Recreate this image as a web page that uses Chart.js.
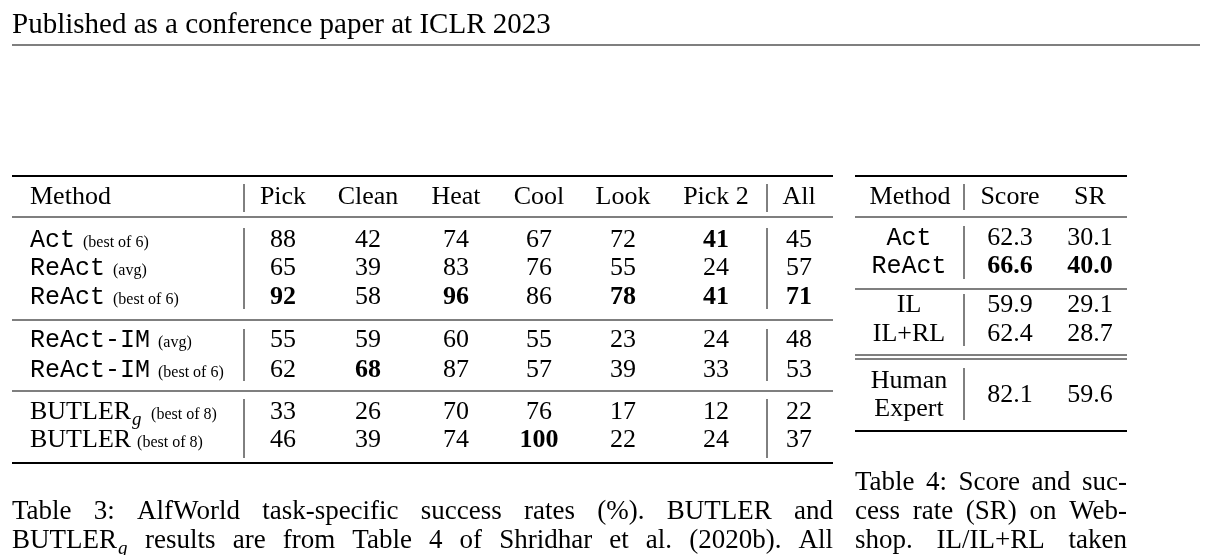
<!DOCTYPE html>
<html><head><meta charset="utf-8">
<script src="https://cdn.jsdelivr.net/npm/chart.js@4"></script>
<style>html,body{margin:0;padding:0;background:#fff}#w{width:1213px;height:555px;position:relative}</style>
</head><body><div id="w"><canvas id="c"></canvas></div>
<script>
const pageHeader = "Published as a conference paper at ICLR 2023";
const t3Columns = ["Method","Pick","Clean","Heat","Cool","Look","Pick 2","All"];
const t3Methods = [["Act","(best of 6)","mono"],["ReAct","(avg)","mono"],["ReAct","(best of 6)","mono"],["ReAct-IM","(avg)","mono"],["ReAct-IM","(best of 6)","mono"],["BUTLER","(best of 8)","serif-g"],["BUTLER","(best of 8)","serif"]];
const t3Pick  = [88,65,92,55,62,33,46];
const t3Clean = [42,39,58,59,68,26,39];
const t3Heat  = [74,83,96,60,87,70,74];
const t3Cool  = [67,76,86,55,57,76,100];
const t3Look  = [72,55,78,23,39,17,22];
const t3Pick2 = [41,24,41,24,33,12,24];
const t3All   = [45,57,71,48,53,22,37];
const t3Bold = [[0,5],[2,0],[2,2],[2,4],[2,5],[2,6],[4,1],[6,3]];
const t4Columns = ["Method","Score","SR"];
const t4Methods = ["Act","ReAct","IL","IL+RL","Human Expert"];
const t4Score = ["62.3","66.6","59.9","62.4","82.1"];
const t4SR = ["30.1","40.0","29.1","28.7","59.6"];
const t4Bold = [1];
const caption3 = ["Table 3: AlfWorld task-specific success rates (%). BUTLER and","BUTLER$ results are from Table 4 of Shridhar et al. (2020b). All"];
const caption4 = ["Table 4: Score and suc-","cess rate (SR) on Web-","shop. IL/IL+RL taken"];

const SERIF='"Liberation Serif", "DejaVu Serif", serif';
const MONO='"Liberation Mono", "DejaVu Sans Mono", monospace';
const FS='26px ';

const tablePlugin = {
  id:'table',
  afterDraw(chart){
    const ctx=chart.ctx, X=v=>chart.scales.x.getPixelForValue(v), Y=v=>chart.scales.y.getPixelForValue(v);
    ctx.save(); ctx.fillStyle='#000'; ctx.strokeStyle='#000';
    const hl=(x1,x2,y,w)=>{ctx.lineWidth=w;ctx.beginPath();ctx.moveTo(X(x1),Y(y));ctx.lineTo(X(x2),Y(y));ctx.stroke();};
    const vl=(x,y1,y2)=>{ctx.lineWidth=1;ctx.beginPath();ctx.moveTo(X(x),Y(y1));ctx.lineTo(X(x),Y(y2));ctx.stroke();};
    const txt=(s,x,y,font,align)=>{ctx.font=font;ctx.textAlign=align||'center';ctx.textBaseline='middle';ctx.fillText(s,X(x),Y(y));return ctx.measureText(s).width;};
    txt(pageHeader,12,25,'29px '+SERIF,'left');
    hl(12,1200,45,1.2);
    // Table 3
    const colX=[30,283,368,456,539,623,716,799];
    hl(12,833,176,2); hl(12,833,217,1.2); hl(12,833,320,1.2); hl(12,833,391,1.2); hl(12,833,463,2);
    t3Columns.forEach((c,i)=>txt(c,colX[i],197,FS+SERIF,i?'center':'left'));
    [[184,212],[228,309],[329,381],[399,458]].forEach(s=>{vl(244,s[0],s[1]);vl(767,s[0],s[1]);});
    const rowY=[240,268,297,340,370,412,440];
    const cols=[t3Pick,t3Clean,t3Heat,t3Cool,t3Look,t3Pick2,t3All];
    t3Methods.forEach((m,r)=>{
      const y=rowY[r]; let x=30;
      if(m[2]==='mono'){ x+=txt(m[0],x,y,'25px '+MONO,'left')+8; }
      else { x+=txt(m[0],x,y,FS+SERIF,'left'); if(m[2]==='serif-g'){ txt('g',x+1,y+8,'italic 19px '+SERIF,'left'); x+=14;} x+=6; }
      txt(m[1],x,y+3,'16px '+SERIF,'left');
      cols.forEach((arr,c)=>{
        const b=t3Bold.some(p=>p[0]===r&&p[1]===c);
        txt(String(arr[r]),colX[c+1],y,(b?'bold ':'')+FS+SERIF);
      });
    });
    // Table 4
    hl(855,1127,176,2); hl(855,1127,217,1.2); hl(855,1127,289,1.2); hl(855,1127,355,1); hl(855,1127,359,1); hl(855,1127,431,2);
    txt(t4Columns[0],910,197,FS+SERIF); txt(t4Columns[1],1010,197,FS+SERIF); txt(t4Columns[2],1090,197,FS+SERIF);
    [[184,210],[226,279],[294,346],[368,420]].forEach(s=>vl(964,s[0],s[1]));
    const r4=[238,266,305,334,395];
    t4Methods.forEach((m,i)=>{
      const y=r4[i], b=t4Bold.includes(i)?'bold ':'';
      if(i<2) txt(m,909,y,'25px '+MONO);
      else if(i===4){ const p=m.split(' '); txt(p[0],909,381,FS+SERIF); txt(p[1],909,409,FS+SERIF);}
      else txt(m,909,y,FS+SERIF);
      txt(t4Score[i],1010,y,b+FS+SERIF); txt(t4SR[i],1090,y,b+FS+SERIF);
    });
    const CF='27px '+SERIF;
    const just=(line,x0,x1,y)=>{
      ctx.font=CF; ctx.textAlign='left'; ctx.textBaseline='middle';
      const words=line.split(' ');
      const ws=words.map(w=>ctx.measureText(w.replace('$','')).width+(w.includes('$')?11:0));
      const total=ws.reduce((a,b)=>a+b,0);
      const gap=(X(x1)-X(x0)-total)/(words.length-1);
      let x=X(x0);
      words.forEach((w,i)=>{
        if(w.includes('$')){ const base=w.replace('$',''); ctx.font=CF; ctx.fillText(base,x,Y(y)); const bw=ctx.measureText(base).width; ctx.font='italic 19px '+SERIF; ctx.fillText('g',x+bw+1,Y(y)+8); ctx.font=CF;}
        else ctx.fillText(w,x,Y(y));
        x+=ws[i]+gap;
      });
    };
    just(caption3[0],12,833,512); just(caption3[1],12,833,541);
    caption4.forEach((l,i)=>just(l,855,1127,483+i*29));
    ctx.restore();
  }
};

new Chart(document.getElementById('c'),{
  type:'scatter',
  data:{datasets:[{data:[],pointRadius:0}]},
  options:{responsive:true,maintainAspectRatio:false,animation:false,
    layout:{padding:0},
    plugins:{legend:{display:false},tooltip:{enabled:false}},
    scales:{x:{type:'linear',min:0,max:1213,display:false},y:{type:'linear',min:0,max:555,reverse:true,display:false}}},
  plugins:[tablePlugin]
});
</script></body></html>
